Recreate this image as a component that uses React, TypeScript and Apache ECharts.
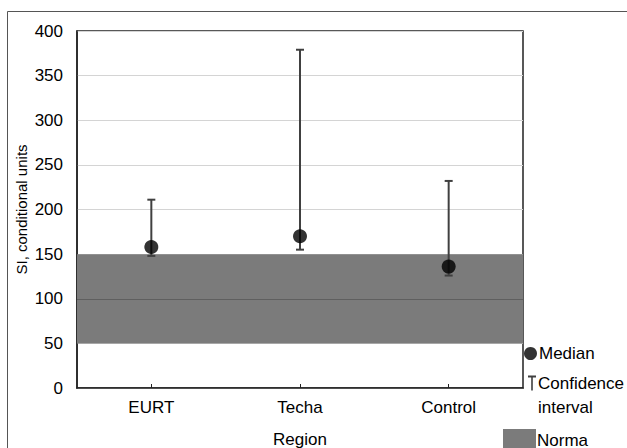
import React, { useEffect, useRef } from "react";
import * as echarts from "echarts";

const categories = ["EURT", "Techa", "Control"];
const medians = [158, 170, 136];
const ciLow = [148, 155, 126];
const ciHigh = [211, 379, 232];
const normaRange = [50, 150];
const yTicks = { min: 0, max: 400, interval: 50 };

export default function App() {
  const ref = useRef<HTMLDivElement>(null);
  useEffect(() => {
    if (!ref.current) return;
    const chart = echarts.init(ref.current, null, { renderer: "svg" });
    const font = "Liberation Sans, Arial, sans-serif";
    chart.setOption({
      animation: false,
      backgroundColor: "#fff",
      textStyle: { fontFamily: font },
      grid: {
        left: 77,
        right: 104,
        top: 31,
        bottom: 60,
        outerBoundsMode: "none",
        containLabel: false,
        show: true,
        borderColor: "#222",
        borderWidth: 1.5,
        backgroundColor: "transparent",
      },
      graphic: [
        {
          type: "rect",
          shape: { x: 7.5, y: 11.5, width: 640, height: 460 },
          style: { fill: "none", stroke: "#555", lineWidth: 1 },
          silent: true,
          z: -1,
        },
      ],
      legend: [
        {
          data: [{ name: "Median", icon: "circle" }],
          left: 524,
          top: 345,
          itemWidth: 13,
          itemHeight: 13,
          itemGap: 2,
          padding: 0,
          textStyle: { fontSize: 17, color: "#000", fontFamily: font, padding: [0, 0, 0, -3] },
        },
        {
          data: [
            {
              name: "Confidence\ninterval",
              icon:
                "path://M4,0 L4.01,0 Z M0,4.5 L8,4.5 L8,6.5 L4.8,6.5 L4.8,19.5 L3.2,19.5 L3.2,6.5 L0,6.5 Z M4,47.99 L4.01,48 Z",
            },
          ],
          left: 528,
          top: 371,
          itemWidth: 8,
          itemHeight: 48,
          padding: 0,
          textStyle: { fontSize: 17, color: "#000", fontFamily: font, lineHeight: 24, padding: [0, 0, 0, -3] },
        },
        {
          data: [{ name: "Norma", icon: "rect" }],
          left: 503,
          top: 429,
          itemWidth: 33,
          itemHeight: 22,
          padding: 0,
          textStyle: { fontSize: 17, color: "#000", fontFamily: font, padding: [0, 0, 0, -4] },
        },
      ],
      xAxis: {
        type: "category",
        data: categories,
        name: "Region",
        nameLocation: "middle",
        nameGap: 43,
        nameMoveOverlap: false,
        nameTextStyle: { fontSize: 17, color: "#000", fontFamily: font },
        axisLine: { lineStyle: { color: "#222", width: 1.5 } },
        axisTick: { show: true, inside: true, alignWithLabel: true, length: 4, lineStyle: { color: "#222" } },
        axisLabel: { fontSize: 17, color: "#000", margin: 11, fontFamily: font },
        splitLine: { show: false },
      },
      yAxis: {
        type: "value",
        min: yTicks.min,
        max: yTicks.max,
        interval: yTicks.interval,
        name: "SI, conditional units",
        nameLocation: "middle",
        nameGap: 48,
        nameMoveOverlap: false,
        nameTextStyle: { fontSize: 15, color: "#000", fontFamily: font },
        axisLine: { show: true, lineStyle: { color: "#222", width: 1.5 } },
        axisTick: { show: false },
        axisLabel: { fontSize: 17, color: "#000", margin: 14, fontFamily: font },
        splitLine: { show: true, lineStyle: { color: "#d4d4d4", width: 1 } },
      },
      series: [
        {
          name: "Norma",
          type: "line",
          data: [],
          itemStyle: { color: "#7b7b7b" },
          lineStyle: { color: "#7b7b7b" },
          markArea: {
            silent: true,
            itemStyle: { color: "#7b7b7b" },
            data: [[{ yAxis: normaRange[0] }, { yAxis: normaRange[1] }]],
          },
          markLine: {
            silent: true,
            symbol: "none",
            label: { show: false },
            lineStyle: { color: "#5f5f5f", type: "solid", width: 1 },
            data: [{ yAxis: 100 }],
          },
          z: 1,
        },
        {
          name: "Confidence\ninterval",
          type: "custom",
          itemStyle: { color: "#404040" },
          data: categories.map((c, i) => [i, ciLow[i], ciHigh[i]]),
          renderItem: (params: any, api: any) => {
            const x = api.value(0);
            const lo = api.coord([x, api.value(1)]);
            const hi = api.coord([x, api.value(2)]);
            const hw = 4;
            const style = { stroke: "#404040", lineWidth: 2 };
            return {
              type: "group",
              children: [
                { type: "line", shape: { x1: lo[0], y1: lo[1], x2: hi[0], y2: hi[1] }, style },
                { type: "line", shape: { x1: lo[0] - hw, y1: lo[1], x2: lo[0] + hw, y2: lo[1] }, style },
                { type: "line", shape: { x1: hi[0] - hw, y1: hi[1], x2: hi[0] + hw, y2: hi[1] }, style },
              ],
            };
          },
          z: 3,
        },
        {
          name: "Median",
          type: "scatter",
          data: medians,
          symbol: "circle",
          symbolSize: 14,
          itemStyle: { color: "#000" },
          z: 4,
        },
      ],
    });
    return () => chart.dispose();
  }, []);
  return <div ref={ref} style={{ width: 627, height: 448, position: "absolute", left: 0, top: 0 }} />;
}
